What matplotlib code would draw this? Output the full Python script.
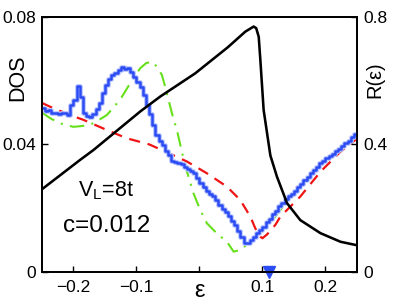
import numpy as np
import matplotlib
matplotlib.use("Agg")
import matplotlib.pyplot as plt

plt.rcParams['font.family'] = ['Liberation Sans', 'DejaVu Sans']
plt.rcParams['mathtext.fontset'] = 'custom'
plt.rcParams['mathtext.rm'] = 'Liberation Sans'
plt.rcParams['mathtext.it'] = 'Liberation Sans'

# ---- data ----
# blue histogram DOS (bin width 0.005 from -0.25)
blue_edges_start = -0.25
blue_bin = 0.005
blue_dos = [
    0.0513, 0.0505, 0.0508, 0.0500, 0.0497, 0.0495, 0.0500, 0.0500, 0.0492, 0.0525,
    0.0540, 0.0583, 0.0550, 0.0500, 0.0490, 0.0485, 0.0495, 0.0510, 0.0530, 0.0560,
    0.0585, 0.0605, 0.0618, 0.0625, 0.0635, 0.0644, 0.0636, 0.0641, 0.0628, 0.0613,
    0.0597, 0.0580, 0.0555, 0.0525, 0.0495, 0.0460, 0.0430, 0.0410, 0.0398, 0.0380,
    0.0365, 0.0348, 0.0345, 0.0342, 0.0338, 0.0330, 0.0322, 0.0315, 0.0309, 0.0295,
    0.0280, 0.0265, 0.0252, 0.0245, 0.0237, 0.0225, 0.0208, 0.0198, 0.0186, 0.0175,
    0.0160, 0.0148, 0.0128, 0.0110, 0.0090, 0.0090, 0.0098, 0.0110, 0.0120, 0.0132,
    0.0140, 0.0155, 0.0165, 0.0180, 0.0192, 0.0205, 0.0215, 0.0228, 0.0238, 0.0245,
    0.0255, 0.0265, 0.0275, 0.0288, 0.0298, 0.0310, 0.0320, 0.0330, 0.0340, 0.0348,
    0.0356, 0.0362, 0.0370, 0.0378, 0.0386, 0.0395, 0.0405, 0.0412, 0.0422, 0.0432,
]

green_eps = [-0.25, -0.237, -0.2214, -0.2002, -0.1843, -0.1684, -0.1471, -0.126, -0.110,
             -0.0942, -0.0847, -0.0756, -0.0676, -0.0597, -0.0545, -0.0492, -0.0438,
             -0.0359, -0.0279, -0.0253, -0.0174, -0.0095, 0.0012, 0.0118, 0.0277,
             0.0436, 0.0541, 0.0648, 0.078, 0.0993, 0.1204, 0.15, 0.20, 0.25]
green_dos = [0.0500, 0.0482, 0.0466, 0.0455, 0.0458, 0.0466, 0.0492, 0.0540, 0.0592,
             0.0639, 0.0655, 0.0660, 0.0644, 0.0618, 0.0581, 0.0540, 0.0498,
             0.0445, 0.0377, 0.0351, 0.0298, 0.0246, 0.0194, 0.0152, 0.0120,
             0.0094, 0.0063, 0.0068, 0.0089, 0.0131, 0.0173, 0.0250, 0.0350, 0.0425]

red_eps = [-0.25, -0.237, -0.2055, -0.1843, -0.1471, -0.1153, -0.08, -0.0517, -0.0199,
           0.0118, 0.0436, 0.0648, 0.0807, 0.0886, 0.0966, 0.100, 0.1072, 0.1204,
           0.1284, 0.160, 0.192, 0.2238, 0.25]
red_dos = [0.0530, 0.0518, 0.0492, 0.0477, 0.0445, 0.0419, 0.0400, 0.0375, 0.0346,
           0.0309, 0.0267, 0.0225, 0.0173, 0.0136, 0.0110, 0.0105, 0.0117, 0.0147,
           0.0173, 0.0236, 0.0314, 0.0377, 0.0418]

black_eps = [-0.25, -0.1896, -0.1684, -0.0942, -0.0624, -0.0068, 0.045, 0.0727, 0.086,
             0.090, 0.094, 0.0966, 0.1018, 0.1125, 0.123, 0.139, 0.16, 0.192, 0.2238, 0.25]
black_R = [0.259, 0.351, 0.382, 0.503, 0.55, 0.623, 0.705, 0.754, 0.770,
           0.765, 0.738, 0.665, 0.508, 0.365, 0.298, 0.215, 0.162, 0.121, 0.094, 0.083]

marker_eps = 0.111

xticks = [-0.2, -0.1, 0.0, 0.1, 0.2]
xticklabels = ['\u22120.2', '\u22120.1', '\u03b5', '0.1', '0.2']
yticks_left = [0, 0.04, 0.08]
yticklabels_left = ['0', '0.04', '0.08']
yticks_right = [0, 0.4, 0.8]
yticklabels_right = ['0', '0.4', '0.8']

# ---- figure ----
fig = plt.figure(figsize=(3.95, 3.08), dpi=100)
ax = fig.add_axes([0.1063, 0.1179, 0.7975, 0.8269])

edges = blue_edges_start + blue_bin * np.arange(len(blue_dos) + 1)
vals = np.append(blue_dos, blue_dos[-1])
ax.plot(green_eps, green_dos, color='#66e01a', lw=1.5, dashes=(7, 3.5, 1, 3.5), zorder=2)
ax.plot(red_eps, red_dos, color='#f01414', lw=1.6, dashes=(5, 3.5), zorder=3)
ax.step(edges, vals, where='post', color='#b8c4ff', lw=3.4, zorder=3.5)
ax.step(edges, vals, where='post', color='#2a4cf2', lw=1.8, zorder=4)
ax.plot([marker_eps], [0], marker='v', color='#2a4cf2', markersize=8.5,
        clip_on=False, zorder=10, linestyle='none')

ax.set_xlim(-0.25, 0.25)
ax.set_ylim(0, 0.08)
ax.set_xticks(xticks)
ax.set_xticklabels(xticklabels)
ax.set_yticks(yticks_left)
ax.set_yticklabels(yticklabels_left)
ax.tick_params(direction='in', labelsize=12.5, length=4, width=1, pad=4.5)
ax.tick_params(axis='x', pad=6)
ax.get_xticklabels()[2].set_fontsize(17)

ax2 = ax.twinx()
ax2.plot(black_eps, black_R, color='black', lw=1.85, zorder=5)
ax2.set_ylim(0, 0.8)
ax2.set_yticks(yticks_right)
ax2.set_yticklabels(yticklabels_right)
ax2.tick_params(direction='in', labelsize=12.5, length=4, width=1, pad=4.5)

for a in (ax, ax2):
    for s in a.spines.values():
        s.set_linewidth(1.3)

ax.text(-0.076, 0.76, 'DOS', rotation=90, ha='center', va='center',
        transform=ax.transAxes, fontsize=15.5)
ax.text(1.057, 0.755, 'R(\u03b5)', rotation=90, ha='center', va='center',
        transform=ax.transAxes, fontsize=14.5)

ax.text(-0.148, 0.0235, r'V$_{\mathrm{L}}$=8t', ha='center', va='baseline', fontsize=15.5)
ax.text(-0.147, 0.0125, 'c=0.012', ha='center', va='baseline', fontsize=17.5)

fig.savefig('out.png', dpi=100)
